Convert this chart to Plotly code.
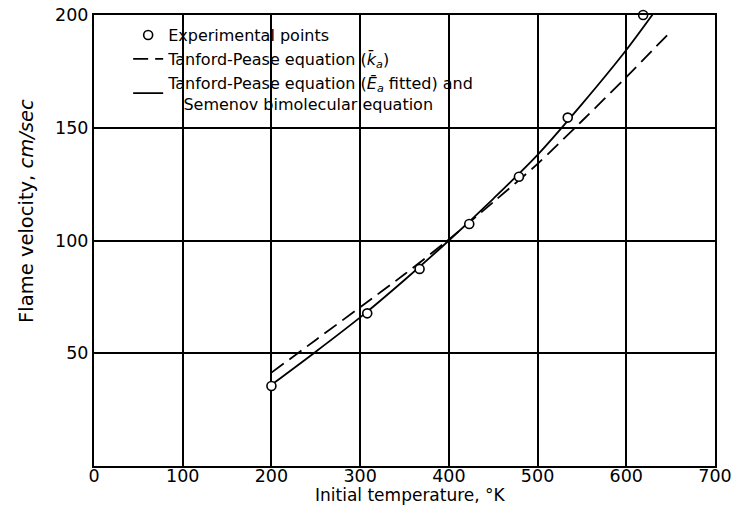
import plotly.graph_objects as go

# Experimental points (the last one sits on the top border of the frame)
exp_T = [200, 308, 367, 423, 479, 534, 619]
exp_v = [35.5, 67.7, 87.4, 107.3, 128.3, 154.5, 200.0]

# Tanford-Pease equation (k_a) - dashed
tp_T = [200, 250, 300, 350, 400, 450, 500, 550, 600, 646]
tp_v = [41.4, 55.9, 70.4, 85.0, 100.5, 117.0, 134.0, 153.0, 172.5, 191.0]

# Tanford-Pease (E_a fitted) and Semenov bimolecular - solid
sm_T = [200, 250, 300, 350, 400, 450, 500, 550, 600, 632]
sm_v = [36.0, 50.7, 65.9, 82.5, 100.0, 118.5, 138.0, 160.5, 184.5, 201.5]

x_ticks = [0, 100, 200, 300, 400, 500, 600, 700]
y_ticks = [50, 100, 150, 200]

FONT = "DejaVu Sans"

fig = go.Figure()
fig.add_trace(go.Scatter(
    x=tp_T, y=tp_v, mode="lines", name="Tanford-Pease equation (<i>k̄<sub>a</sub></i>)",
    line=dict(color="black", width=1.8, dash="15px,7px", shape="spline", smoothing=0.8),
    legendrank=2))
fig.add_trace(go.Scatter(
    x=sm_T, y=sm_v, mode="lines",
    name="Tanford-Pease equation (<i>Ē<sub>a</sub></i> fitted) and<br>\u00a0\u00a0\u00a0Semenov bimolecular equation",
    line=dict(color="black", width=1.8, shape="spline", smoothing=0.8),
    legendrank=3))
fig.add_trace(go.Scatter(
    x=exp_T, y=exp_v, mode="markers", name="Experimental points",
    marker=dict(symbol="circle", size=9, color="white",
                line=dict(color="black", width=1.6)),
    legendrank=1, cliponaxis=False))

axis_common = dict(
    showgrid=True, gridcolor="black", gridwidth=1.7,
    showline=True, linecolor="black", linewidth=2, mirror=True,
    zeroline=False, ticks="", automargin=False,
    tickfont=dict(family=FONT, size=17.5, color="black"),
)

fig.update_layout(
    width=749, height=507,
    margin=dict(l=94, r=34, t=15, b=41),
    paper_bgcolor="white", plot_bgcolor="white",
    font=dict(family=FONT, color="black"),
    showlegend=True,
    legend=dict(x=0.055, y=0.993, xanchor="left", yanchor="top",
                bgcolor="rgba(0,0,0,0)", font=dict(family=FONT, size=16, color="black"),
                tracegroupgap=0, traceorder="normal"),
    xaxis=dict(range=[0, 700], tickvals=x_ticks, ticklabelstandoff=-7, **axis_common),
    yaxis=dict(range=[0, 200], tickvals=y_ticks, **axis_common),
)

fig.add_annotation(
    text="Initial temperature, °K",
    xref="paper", yref="paper", x=0.51, y=-0.064,
    xanchor="center", yanchor="middle", showarrow=False,
    font=dict(family=FONT, size=17, color="black"))

fig.add_annotation(
    text="Flame velocity, <i>cm/sec</i>", textangle=-90,
    xref="paper", yref="paper", x=-0.11, y=0.565,
    xanchor="center", yanchor="middle", showarrow=False,
    font=dict(family=FONT, size=19.5, color="black"))

fig.write_html("out.html", post_script="document.body.style.margin='0';",
               config={"displayModeBar": False})
